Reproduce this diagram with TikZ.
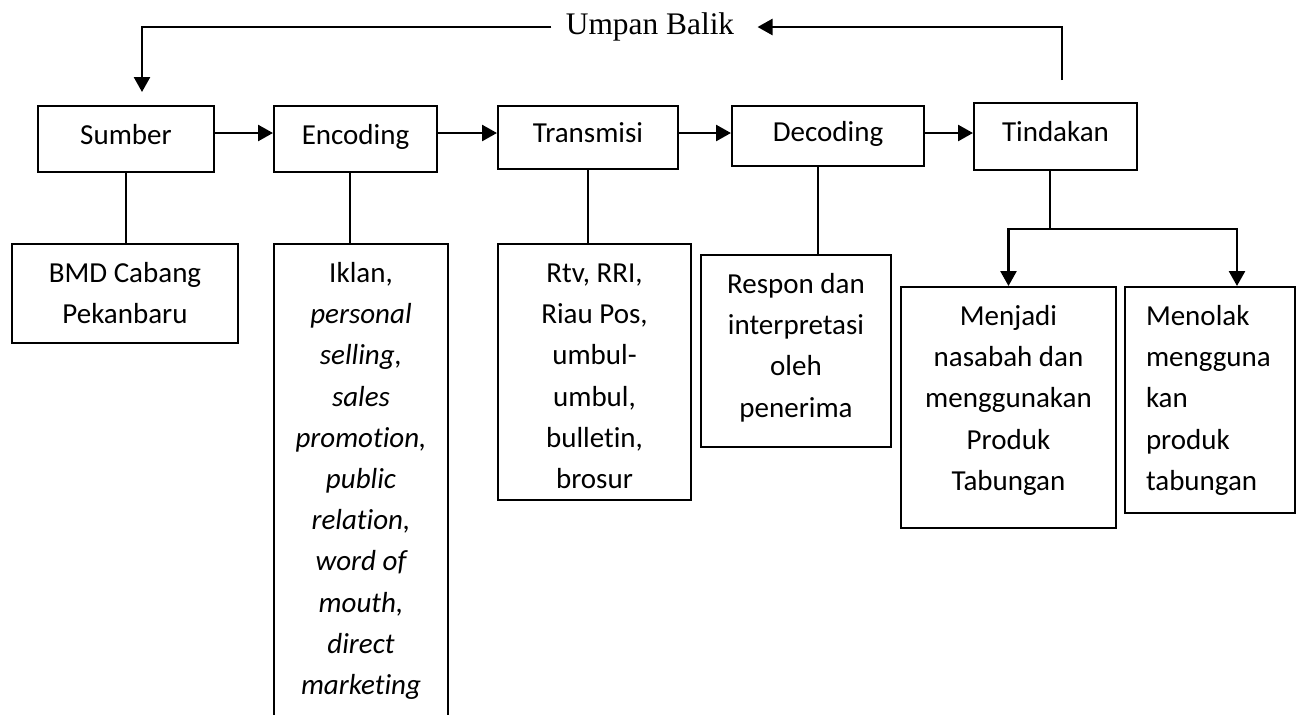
\documentclass[tikz,border=0pt]{standalone}
\usepackage{fontspec}
\setmainfont{Carlito}[Ligatures=NoCommon]
\newfontfamily\timesfont{Liberation Serif}
\usetikzlibrary{arrows.meta}

\begin{document}
\begin{tikzpicture}[x=0.5pt, y=-0.5pt,
    font=\fontsize{14.5}{20.6}\selectfont\frenchspacing,
    kotak/.style={draw, line width=1pt, inner sep=0pt, text height=8pt, text depth=3pt},
    isi/.style={kotak, anchor=north, align=flush center, text height=19.25pt},
    garis/.style={line width=0.9pt},
    panah/.style={line width=1.3pt, -{Triangle[length=7.5pt, width=8pt]}}]
    \clip (0,0) rectangle (1298,714);

    \node[font=\timesfont\fontsize{15.7}{18}\selectfont, inner xsep=7pt, inner ysep=0pt] (balik) at (650,27) {Umpan Balik};

    \node[kotak, minimum width=88pt, minimum height=33pt] (sumber) at (126,139) {Sumber};
    \node[kotak, minimum width=81.5pt, minimum height=33pt] (encoding) at (355.5,139) {Encoding};
    \node[kotak, minimum width=90pt, minimum height=31.5pt] (transmisi) at (588,137.5) {Transmisi};
    \node[kotak, minimum width=96pt, minimum height=30pt] (decoding) at (828,136) {Decoding};
    \node[kotak, minimum width=81.5pt, minimum height=33.5pt] (tindakan) at (1055.5,136.5) {Tindakan};

    \node[isi, text width=113pt, text depth=30.25pt] (bmd) at (125,243) {BMD Cabang\\ Pekanbaru};
    \node[isi, text width=87pt, text depth=219.25pt] (iklan) at (361,243) {Iklan,\\ \itshape personal\\ selling,\\ sales\\ promotion,\\ public\\ relation,\\ word of\\ mouth,\\ direct\\ marketing};
    \node[isi, text width=96.5pt, text depth=108.75pt] (media) at (594.5,243) {Rtv, RRI,\\ Riau Pos,\\ umbul-\\ umbul,\\ bulletin,\\ brosur};
    \node[isi, text width=95pt, text depth=76.75pt] (respon) at (796,254) {Respon dan\\ interpretasi\\ oleh\\ penerima};
    \node[isi, text width=107.5pt, text depth=101.25pt] (menjadi) at (1008.5,286) {Menjadi\\ nasabah dan\\ menggunakan\\ Produk\\ Tabungan};
    \node[isi, align=flush left, inner xsep=10.5pt, text width=64pt, text depth=93.75pt] (menolak) at (1210,286) {Menolak\\ mengguna\\ kan\\ produk\\ tabungan};

    \coordinate (baris) at (0,133);
    \coordinate (atas) at (1062,80);
    \coordinate (turun) at (142,92);
    \coordinate (cabang) at (1050,229);

    \foreach \a/\b in {sumber/encoding, encoding/transmisi, transmisi/decoding, decoding/tindakan}
        \draw[panah] (\a.east |- baris) -- (\b.west |- baris);

    \draw[panah] (balik.west) -| (turun);
    \draw[panah] (atas) |- ([xshift=4.5pt]balik.east);

    \draw[garis] (sumber.south) -- (sumber.south |- bmd.north);
    \draw[garis] ([xshift=-2.75pt]encoding.south) -- ([xshift=-2.75pt]encoding.south |- iklan.north);
    \draw[garis] (transmisi.south) -- (transmisi.south |- media.north);
    \draw[garis] ([xshift=-5pt]decoding.south) -- ([xshift=-5pt]decoding.south |- respon.north);
    \draw[garis] ([xshift=-2.75pt]tindakan.south) -- (cabang);
    \draw[panah] (cabang) -| (menjadi.north);
    \draw[panah] (cabang) -| ([xshift=13.5pt]menolak.north);
\end{tikzpicture}
\end{document}
